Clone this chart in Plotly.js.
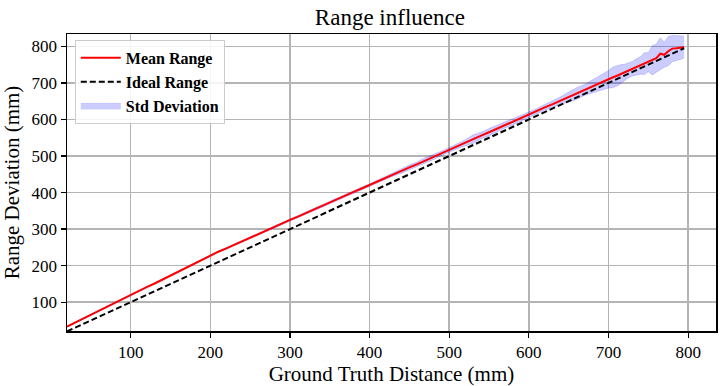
<!DOCTYPE html>
<html>
<head>
<meta charset="utf-8">
<script src="https://cdn.plot.ly/plotly-3.0.1.min.js"></script>
<style>html,body{margin:0;padding:0;background:#fff;}#chart{width:722px;height:386px;}</style>
</head>
<body>
<div id="chart"></div>
<script>
// Ground truth distances (mm)
const distance = [
  20,30,40,50,60,70,80,90,100,110,
  120,130,140,150,160,170,180,190,200,210,
  220,230,240,250,260,270,280,290,300,310,
  320,330,340,350,360,370,380,390,400,410,
  420,430,440,450,460,470,480,490,500,510,
  520,530,540,550,560,570,580,590,600,610,
  620,630,640,650,660,670,680,690,700,705,
  710,715,720,725,730,735,740,745,750,755,
  760,765,770,775,780,785,790,795];
// Mean measured range (mm)
const meanRange = [
  33,44,55,66,76,87,98,108,119,130,
  141,151,162,173,184,195,206,217,228,238,
  247,257,267,276,286,296,305,315,325,334,
  344,354,363,373,382,392,402,411,421,430,
  440,449,459,469,478,488,497,507,517,527,
  536,546,556,565,575,585,594,604,614,623,
  633,642,652,661,671,681,691,701,710,715,
  719,724,729,734,739,744,748,753,757,762,
  768,780,777,787,794,795,797,798];
// Standard deviation (mm)
const stdDev = [
  1.5,1.5,1.5,1.5,1.5,1.5,1.5,1.5,1.5,1.5,
  1.5,1.5,1.5,1.5,1.5,1.5,1.5,1.5,2,2,
  2,2,2,2.5,2.5,2.5,2.5,3,3,3,
  3,3,3,3,3,4,5,4,3,4,
  5,4,6,7,6,8,7,6,6,7,
  8,12,9,10,9,8,9,8,7,7,
  8,9,10,14,16,15,18,22,24,28,
  28,26,22,20,20,22,24,30,26,40,
  38,44,34,40,36,35,33,30];
// Ideal range = ground truth distance
const idealX = [20,795];
const idealRange = [20,795];

const upper = meanRange.map((m,i)=>m+stdDev[i]);
const lower = meanRange.map((m,i)=>m-stdDev[i]);

const FONT = '"Liberation Serif", "Times New Roman", serif';

const traces = [
  {x: distance, y: lower, mode:'lines', line:{width:0.8, color:'rgba(0,0,255,0.2)'},
   showlegend:false, hoverinfo:'skip'},
  {x: distance, y: upper, mode:'lines', fill:'tonexty', fillcolor:'rgba(0,0,255,0.2)',
   line:{width:0.8, color:'rgba(0,0,255,0.2)'}, name:'Std Deviation', legendrank:3},
  {x: distance, y: meanRange, mode:'lines', line:{color:'#ff0000', width:2},
   name:'Mean Range', legendrank:1},
  {x: idealX, y: idealRange, mode:'lines', line:{color:'#000000', width:2, dash:'6px,3px'},
   name:'Ideal Range', legendrank:2}
];

const axisCommon = {
  showline:true, mirror:true, linecolor:'#000', linewidth:1.5,
  ticks:'outside', ticklen:5, tickwidth:1.2, tickcolor:'#000',
  showgrid:true, gridcolor:'#b4b4b4', gridwidth:1.5,
  zeroline:false, tickfont:{family:FONT, size:17, color:'#000'}
};

const layout = {
  width:722, height:386,
  margin:{l:67, r:6, t:34, b:55},
  paper_bgcolor:'#fff', plot_bgcolor:'#fff',
  font:{family:FONT, color:'#000'},
  title:{text:'Range influence', font:{family:FONT, size:23, color:'#000'},
         x:0.54, xanchor:'center', y:0.955, yref:'container', yanchor:'middle'},
  xaxis: Object.assign({}, axisCommon, {
    range:[20,835], tickvals:[100,200,300,400,500,600,700,800],
    title:{text:'Ground Truth Distance (mm)', font:{family:FONT, size:21, color:'#000'}, standoff:6}
  }),
  yaxis: Object.assign({}, axisCommon, {
    range:[21,834], tickvals:[100,200,300,400,500,600,700,800],
    title:{text:'Range Deviation (mm)', font:{family:FONT, size:21, color:'#000'}, standoff:8}
  }),
  legend:{x:0.012, y:0.98, xanchor:'left', yanchor:'top', traceorder:'normal',
    itemwidth:40,
    bgcolor:'rgba(255,255,255,0.85)', bordercolor:'#cccccc', borderwidth:1,
    font:{family:FONT, size:16, color:'#000', weight:'bold'}, tracegroupgap:0}
};

Plotly.newPlot('chart', traces, layout, {staticPlot:true, displayModeBar:false});
</script>
</body>
</html>
